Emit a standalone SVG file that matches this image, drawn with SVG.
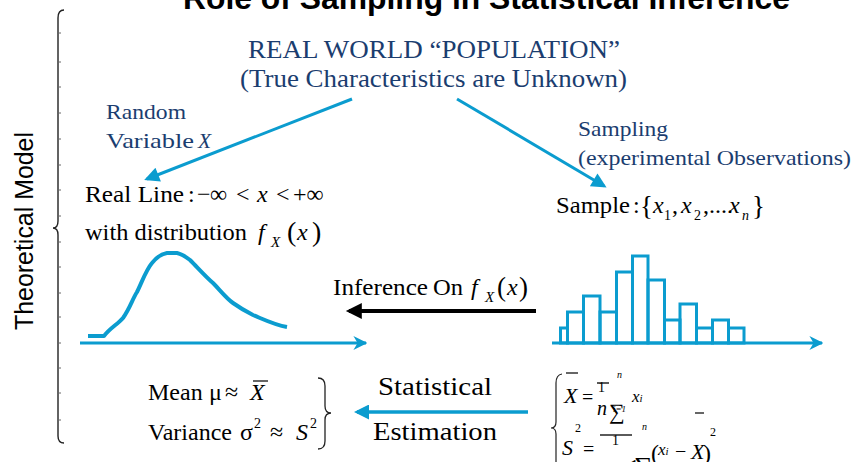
<svg xmlns="http://www.w3.org/2000/svg" width="854" height="462" viewBox="0 0 854 462">
<style>
.t{font-family:"Liberation Serif","Times New Roman",serif;fill:#000}
.b{fill:#1b3d6f}
.i{font-style:italic}
.bl{stroke:#0b9ccf;fill:none}
.k{stroke:#222;fill:none}
</style>
<defs>
<marker id="ah" viewBox="0 0 10 10" refX="8" refY="5" markerWidth="18" markerHeight="15" markerUnits="userSpaceOnUse" orient="auto">
<path d="M0,0 L10,5 L0,10 z" fill="#0b9ccf"/></marker>
<marker id="ax" viewBox="0 0 10 10" refX="9" refY="5" markerWidth="14" markerHeight="14" markerUnits="userSpaceOnUse" orient="auto">
<path d="M0,0 L10,5 L0,10 L3,5 z" fill="#0b9ccf"/></marker>
<marker id="ak" viewBox="0 0 10 10" refX="8" refY="5" markerWidth="18" markerHeight="16" markerUnits="userSpaceOnUse" orient="auto">
<path d="M0,0 L10,5 L0,10 z" fill="#000"/></marker>
</defs>
<rect width="854" height="462" fill="#fff"/>

<g id="title">
<text x="183" y="8.5" font-family="Liberation Sans, Arial, sans-serif" font-weight="bold" font-size="31" textLength="607" lengthAdjust="spacingAndGlyphs">Role of Sampling in Statistical Inference</text>
</g>

<g id="theoretical-model">
<path class="k" stroke-width="1.4" d="M64,10 Q58,10 58,18 L58,221 Q58,228 53,228 Q58,228 58,235 L58,436 Q58,443 64,443"/>
<g stroke="#666" stroke-width="1">
<line x1="58" y1="33" x2="61" y2="33"/><line x1="58" y1="62" x2="61" y2="62"/><line x1="58" y1="87" x2="61" y2="87"/><line x1="58" y1="113" x2="61" y2="113"/><line x1="58" y1="139" x2="61" y2="139"/><line x1="58" y1="165" x2="61" y2="165"/><line x1="58" y1="190" x2="61" y2="190"/><line x1="58" y1="216" x2="61" y2="216"/><line x1="58" y1="242" x2="61" y2="242"/><line x1="58" y1="267" x2="61" y2="267"/><line x1="58" y1="293" x2="61" y2="293"/><line x1="58" y1="317" x2="61" y2="317"/><line x1="58" y1="343" x2="61" y2="343"/><line x1="58" y1="368" x2="61" y2="368"/><line x1="58" y1="393" x2="61" y2="393"/><line x1="58" y1="420" x2="61" y2="420"/>
</g>
<text transform="translate(33,330) rotate(-90)" font-family="Liberation Sans, Arial, sans-serif" font-size="25" textLength="198" lengthAdjust="spacingAndGlyphs" fill="#000">Theoretical Model</text>
</g>

<g id="population">
<text class="t b" x="248" y="58" font-size="25" textLength="372" lengthAdjust="spacingAndGlyphs">REAL WORLD “POPULATION”</text>
<text class="t b" x="240" y="87" font-size="26" textLength="387" lengthAdjust="spacingAndGlyphs">(True Characteristics are Unknown)</text>
</g>

<g id="random-variable-label">
<text class="t b" x="106" y="119" font-size="21.5" textLength="80" lengthAdjust="spacingAndGlyphs">Random</text>
<text class="t b" x="106" y="148" font-size="21.5" textLength="88" lengthAdjust="spacingAndGlyphs">Variable</text>
<text class="t b i" x="198" y="148" font-size="21.5">X</text>
</g>

<g id="sampling-label">
<text class="t b" x="578" y="136" font-size="21.5" textLength="90" lengthAdjust="spacingAndGlyphs">Sampling</text>
<text class="t b" x="578" y="165" font-size="21.5" textLength="273" lengthAdjust="spacingAndGlyphs">(experimental Observations)</text>
</g>

<g id="real-line">
<text class="t" y="202" font-size="24"><tspan x="85" textLength="99" lengthAdjust="spacingAndGlyphs">Real Line</tspan><tspan x="188">:</tspan><tspan x="197">−</tspan><tspan x="210">∞</tspan><tspan x="236">&lt;</tspan><tspan x="257" class="i">x</tspan><tspan x="276">&lt;</tspan><tspan x="293">+∞</tspan></text>
<text class="t" x="85" y="240" font-size="24" textLength="162" lengthAdjust="spacingAndGlyphs">with distribution</text>
<text class="t i" x="258" y="240" font-size="24">f</text>
<text class="t i" x="271" y="247" font-size="15">X</text>
<text class="t" x="287" y="241" font-size="28">(</text>
<text class="t i" x="297" y="240" font-size="24">x</text>
<text class="t" x="312" y="241" font-size="28">)</text>
</g>

<g id="sample">
<text class="t" y="213" font-size="24"><tspan x="556" textLength="74" lengthAdjust="spacingAndGlyphs">Sample</tspan><tspan x="633">:</tspan></text>
<text class="t" x="640" y="215" font-size="27">{</text>
<text class="t i" x="653" y="213" font-size="24">x</text>
<text class="t" x="664" y="220" font-size="14">1</text>
<text class="t" x="672" y="213" font-size="24">,</text>
<text class="t i" x="681" y="213" font-size="24">x</text>
<text class="t" x="694" y="220" font-size="14">2</text>
<text class="t" x="703" y="213" font-size="24">,....</text>
<text class="t i" x="729" y="213" font-size="24">x</text>
<text class="t i" x="742" y="220" font-size="14">n</text>
<text class="t" x="752" y="215" font-size="27">}</text>
</g>

<g id="density">
<path class="bl" stroke-width="4" stroke-linejoin="round" d="M88,336 L104,336 C110,328 118,324 123,318 C130,308 132,300 137,292 C142,282 146,270 152,263 C156,258 160,254 167,253 L177,253 C182,254 186,257 190,260 C198,268 205,276 213,283 C220,290 226,298 233,303 C240,308 247,312 253,315 C265,320 275,325 287,327"/>
</g>

<g id="histogram" class="bl" stroke-width="3">
<rect x="560.5" y="328" width="7" height="15"/>
<rect x="567.5" y="312" width="16" height="31"/>
<rect x="583.5" y="296" width="16.5" height="47"/>
<rect x="600" y="312" width="16.5" height="31"/>
<rect x="616.5" y="272" width="16" height="71"/>
<rect x="632.5" y="256" width="15.5" height="87"/>
<rect x="648" y="280" width="16.5" height="63"/>
<rect x="664.5" y="320" width="15.5" height="23"/>
<rect x="680" y="304" width="16.5" height="39"/>
<rect x="696.5" y="328" width="16" height="15"/>
<rect x="712.5" y="320" width="16" height="23"/>
<rect x="728.5" y="328" width="15.5" height="15"/>
</g>

<g id="inference-label">
<text class="t" x="333" y="295" font-size="24" textLength="95" lengthAdjust="spacingAndGlyphs">Inference</text>
<text class="t" x="433" y="295" font-size="24" textLength="30" lengthAdjust="spacingAndGlyphs">On</text>
<text class="t i" x="471" y="295" font-size="24">f</text>
<text class="t i" x="485" y="302" font-size="15">X</text>
<text class="t" x="497" y="296" font-size="27">(</text>
<text class="t i" x="507" y="295" font-size="24">x</text>
<text class="t" x="519" y="296" font-size="27">)</text>
</g>

<g id="estimates">
<text class="t" y="400" font-size="24"><tspan x="148">Mean</tspan><tspan x="209">μ</tspan><tspan x="225">≈</tspan><tspan x="250" class="i">X</tspan></text>
<line x1="253" y1="381" x2="268" y2="381" stroke="#000" stroke-width="1.2"/>
<text class="t" y="440" font-size="24"><tspan x="148">Variance</tspan><tspan x="240">σ</tspan><tspan x="270">≈</tspan><tspan x="296" class="i">S</tspan></text>
<text class="t" x="254" y="428" font-size="14">2</text>
<text class="t" x="310" y="428" font-size="14">2</text>
<path class="k" stroke-width="1.3" d="M318,378 Q325,378 325,386 L325,406 Q325,413 331,413 Q325,413 325,420 L325,441 Q325,449 318,449"/>
</g>

<g id="estimation-label">
<text class="t" x="378" y="395" font-size="26" textLength="114" lengthAdjust="spacingAndGlyphs">Statistical</text>
<text class="t" x="373" y="440" font-size="26" textLength="124" lengthAdjust="spacingAndGlyphs">Estimation</text>
</g>

<g id="formulas">
<path class="k" stroke-width="1.2" d="M562,374 Q556,375 556,383 L556,422 Q556,428 551,428 Q556,428 556,434 L556,462"/>
<line x1="566" y1="373" x2="578" y2="373" stroke="#000" stroke-width="1.2"/>
<text class="t i" x="564" y="403" font-size="22">X</text>
<text class="t" x="582" y="404" font-size="20">=</text>
<text class="t" x="598" y="392" font-size="14">1</text>
<line x1="597" y1="383" x2="609" y2="383" stroke="#000" stroke-width="1.3"/>
<text class="t i" x="617" y="378" font-size="10">n</text>
<text class="t i" x="597" y="415" font-size="20">n</text>
<text class="t" x="609" y="419" font-size="22">∑</text>
<text class="t i" x="613" y="412" font-size="9">i=1</text>
<text class="t i" x="632" y="402" font-size="17">x<tspan font-size="11">i</tspan></text>

<text class="t i" x="562" y="455" font-size="22">S</text>
<text class="t" x="575" y="432" font-size="12">2</text>
<text class="t" x="583" y="456" font-size="20">=</text>
<line x1="600" y1="435" x2="632" y2="435" stroke="#000" stroke-width="1.3"/>
<text class="t" x="612" y="445" font-size="14">1</text>
<text class="t i" x="642" y="430" font-size="10">n</text>
<text class="t" x="598" y="474" font-size="20"><tspan class="i">n</tspan> − 1</text>
<text class="t" x="634" y="475" font-size="26">∑</text>
<text class="t" x="651" y="461" font-size="24">(</text>
<text class="t i" x="658" y="455" font-size="17">x<tspan font-size="11">i</tspan></text>
<text class="t" x="675" y="458" font-size="20">−</text>
<text class="t i" x="691" y="459" font-size="22">X</text>
<line x1="695" y1="413" x2="704" y2="413" stroke="#000" stroke-width="1.2"/>
<text class="t" x="703" y="461" font-size="24">)</text>
<text class="t" x="710" y="436" font-size="12">2</text>
</g>

<g id="connectors">
<path class="bl" stroke-width="3" d="M352,99 L147,179" marker-end="url(#ah)"/>
<path class="bl" stroke-width="3" d="M457,99 L604,186" marker-end="url(#ah)"/>
<path class="bl" stroke-width="3" d="M80,343 L366,343" marker-end="url(#ax)"/>
<path class="bl" stroke-width="3" d="M552,343 L822,343" marker-end="url(#ax)"/>
<path stroke="#000" stroke-width="4" fill="none" d="M536,311 L349,311" marker-end="url(#ak)"/>
<path class="bl" stroke-width="3.5" d="M528,412 L357,412" marker-end="url(#ah)"/>
</g>
</svg>
